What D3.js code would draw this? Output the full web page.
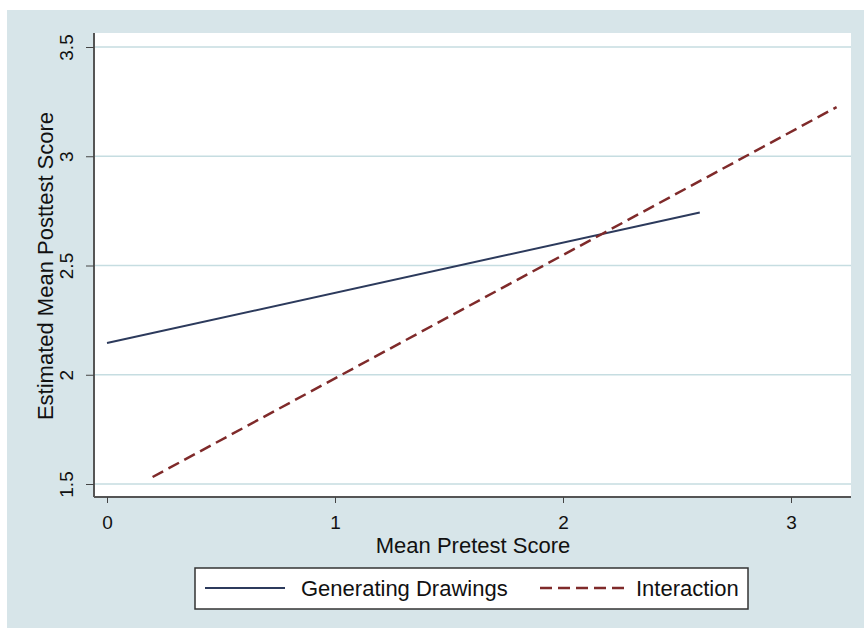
<!DOCTYPE html>
<html><head><meta charset="utf-8">
<script src="https://cdn.jsdelivr.net/npm/d3@7"></script>
<style>body{margin:0;background:#fff}svg{display:block}text{font-family:"Liberation Sans",Arial,sans-serif}</style>
</head><body>
<svg id="c" width="864" height="630"></svg>
<script>
const seriesNames = ["Generating Drawings", "Interaction"];
const genX = [0, 2.6];
const genY = [2.145, 2.743];
const intX = [0.2, 3.2];
const intY = [1.532, 3.225];
const xTicks = [0, 1, 2, 3];
const yTicks = [1.5, 2, 2.5, 3, 3.5];
const xTitle = "Mean Pretest Score";
const yTitle = "Estimated Mean Posttest Score";

const svg = d3.select("#c");
svg.append("rect").attr("x",7).attr("y",10).attr("width",857).attr("height",618).attr("fill","#d7e5e9");
const L=94,R=851,T=33,B=497;
svg.append("rect").attr("x",L).attr("y",T).attr("width",R-L).attr("height",B-T).attr("fill","#fff");
const x = d3.scaleLinear().domain([0,3]).range([107,791]);
const y = d3.scaleLinear().domain([1.5,3.5]).range([484,47]);

svg.append("g").selectAll("line").data(yTicks).join("line")
  .attr("x1",L).attr("x2",R).attr("y1",d=>y(d)).attr("y2",d=>y(d))
  .attr("stroke","#c6dde1").attr("stroke-width",1.5);

const fmt = d=>String(d);
const xa = svg.append("g").attr("transform",`translate(0,${B})`)
  .call(d3.axisBottom(x).tickValues(xTicks).tickFormat(fmt).tickSize(6).tickPadding(5).tickSizeOuter(0));
xa.select(".domain").attr("d",`M${L},0H${R}`).attr("stroke","#555").attr("stroke-width",2);
xa.selectAll(".tick line").attr("stroke","#444");
xa.selectAll(".tick text").attr("font-size",19).attr("fill","#111").attr("font-family","Liberation Sans, Arial, sans-serif")
  .attr("dy",0).attr("y",32);

const ya = svg.append("g").attr("transform",`translate(${L},0)`)
  .call(d3.axisLeft(y).tickValues(yTicks).tickFormat(fmt).tickSize(8).tickPadding(5).tickSizeOuter(0));
ya.select(".domain").attr("d",`M0,${T}V${B}`).attr("stroke","#555").attr("stroke-width",2);
ya.selectAll(".tick line").attr("stroke","#444");
ya.selectAll(".tick text").attr("font-size",19).attr("fill","#111").attr("font-family","Liberation Sans, Arial, sans-serif")
  .attr("text-anchor","middle").attr("dy",0).attr("x",0)
  .attr("transform","translate(-21,0) rotate(-90)");

const line = d3.line().x(d=>x(d[0])).y(d=>y(d[1]));
svg.append("path").datum(genX.map((v,i)=>[v,genY[i]])).attr("d",line)
  .attr("fill","none").attr("stroke","#2c3a5c").attr("stroke-width",2);
svg.append("path").datum(intX.map((v,i)=>[v,intY[i]])).attr("d",line)
  .attr("fill","none").attr("stroke","#7f2a2a").attr("stroke-width",2.5).attr("stroke-dasharray","12,6");

svg.append("text").attr("x",473).attr("y",553).attr("text-anchor","middle").attr("font-size",22).attr("fill","#111").text(xTitle);
svg.append("text").attr("transform",`translate(53,266) rotate(-90)`).attr("text-anchor","middle").attr("font-size",22).attr("fill","#111").text(yTitle);

// legend
svg.append("rect").attr("x",195).attr("y",568).attr("width",553).attr("height",41).attr("fill","#fff").attr("stroke","#333").attr("stroke-width",1.5);
svg.append("line").attr("x1",205).attr("x2",285).attr("y1",588).attr("y2",588).attr("stroke","#2c3a5c").attr("stroke-width",2);
svg.append("text").attr("x",301).attr("y",596).attr("font-size",22).attr("fill","#111").text(seriesNames[0]);
svg.append("line").attr("x1",540).attr("x2",625).attr("y1",588).attr("y2",588).attr("stroke","#7f2a2a").attr("stroke-width",2.5).attr("stroke-dasharray","12,6");
svg.append("text").attr("x",636).attr("y",596).attr("font-size",22).attr("fill","#111").text(seriesNames[1]);
</script>
</body></html>
